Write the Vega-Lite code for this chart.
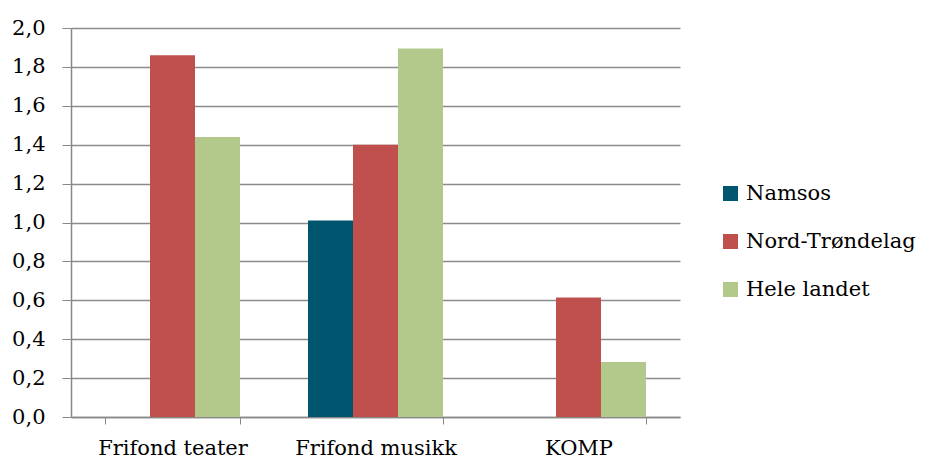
{
  "$schema": "https://vega.github.io/schema/vega-lite/v6.json",
  "width": 609,
  "height": 389,
  "autosize": {"type": "none"},
  "padding": {"left": 71, "top": 28, "right": 247, "bottom": 45},
  "background": "white",
  "data": {
    "values": [
      {"kategori": "Frifond teater", "serie": "Namsos", "verdi": 0},
      {"kategori": "Frifond teater", "serie": "Nord-Trøndelag", "verdi": 1.86},
      {"kategori": "Frifond teater", "serie": "Hele landet", "verdi": 1.44},
      {"kategori": "Frifond musikk", "serie": "Namsos", "verdi": 1.01},
      {"kategori": "Frifond musikk", "serie": "Nord-Trøndelag", "verdi": 1.4},
      {"kategori": "Frifond musikk", "serie": "Hele landet", "verdi": 1.895},
      {"kategori": "KOMP", "serie": "Namsos", "verdi": 0},
      {"kategori": "KOMP", "serie": "Nord-Trøndelag", "verdi": 0.615},
      {"kategori": "KOMP", "serie": "Hele landet", "verdi": 0.283}
    ]
  },
  "mark": {"type": "bar"},
  "encoding": {
    "x": {
      "field": "kategori",
      "type": "nominal",
      "sort": ["Frifond teater", "Frifond musikk", "KOMP"],
      "scale": {"paddingInner": 0.335, "paddingOuter": 0.1675},
      "axis": {
        "title": null,
        "labelAngle": 0,
        "labelFont": "DejaVu Serif",
        "labelFontSize": 21,
        "labelColor": "#000000",
        "labelPadding": 13,
        "tickBand": "extent",
        "tickColor": "#888888",
        "tickSize": 7,
        "domainColor": "#888888",
        "domainWidth": 1.5,
        "grid": false
      }
    },
    "xOffset": {
      "field": "serie",
      "type": "nominal",
      "sort": ["Namsos", "Nord-Trøndelag", "Hele landet"],
      "scale": {"paddingInner": 0, "paddingOuter": 0}
    },
    "y": {
      "field": "verdi",
      "type": "quantitative",
      "scale": {"domain": [0, 2], "nice": false},
      "axis": {
        "title": null,
        "values": [0, 0.2, 0.4, 0.6, 0.8, 1.0, 1.2, 1.4, 1.6, 1.8, 2.0],
        "labelExpr": "replace(format(datum.value, '.1f'), '.', ',')",
        "labelFont": "DejaVu Serif",
        "labelFontSize": 21,
        "labelColor": "#000000",
        "labelPadding": 17,
        "tickColor": "#888888",
        "tickSize": 9,
        "domainColor": "#888888",
        "domainWidth": 1.5,
        "grid": true,
        "gridColor": "#8c8c8c",
        "gridWidth": 1.3
      }
    },
    "color": {
      "field": "serie",
      "type": "nominal",
      "sort": ["Namsos", "Nord-Trøndelag", "Hele landet"],
      "scale": {
        "domain": ["Namsos", "Nord-Trøndelag", "Hele landet"],
        "range": ["#00566E", "#C0504D", "#B3C88B"]
      },
      "legend": {
        "title": null,
        "orient": "none",
        "legendX": 649,
        "legendY": 155,
        "symbolType": "square",
        "symbolSize": 225,
        "symbolStrokeWidth": 0,
        "labelFont": "DejaVu Serif",
        "labelFontSize": 21,
        "labelColor": "#000000",
        "labelOffset": 5,
        "labelLimit": 400,
        "rowPadding": 26
      }
    }
  },
  "config": {
    "view": {"stroke": null}
  }
}
